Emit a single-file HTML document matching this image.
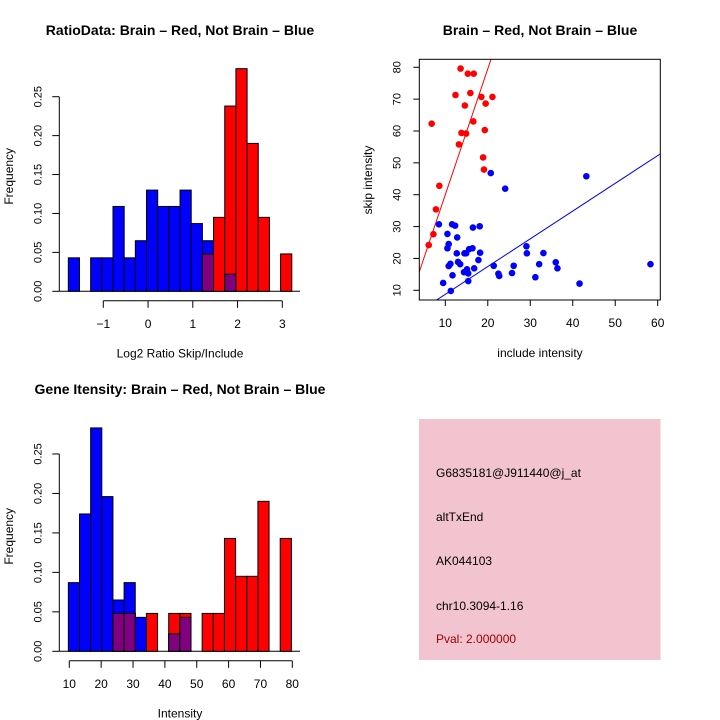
<!DOCTYPE html>
<html><head><meta charset="utf-8"><style>
body{margin:0;background:#fff;width:720px;height:720px;overflow:hidden}
svg{display:block;font-family:"Liberation Sans",sans-serif}
</style></head><body>
<svg id="s" width="720" height="720" xmlns="http://www.w3.org/2000/svg">
<rect x="419" y="419" width="241.5" height="241" fill="#f2c4cf"/>
<g font-size="12">
<text x="436" y="477">G6835181@J911440@j_at</text>
<text x="436" y="521">altTxEnd</text>
<text x="436" y="565">AK044103</text>
<text x="436" y="610">chr10.3094-1.16</text>
<text x="436" y="643" fill="#a00000">Pval: 2.000000</text>
</g>
</svg>
<script>
// Chart 1: ratio histogram
const ratioBlue=[0.043,0,0.043,0.043,0.109,0.043,0.065,0.130,0.109,0.109,0.130,0.087,0.065,0,0.022,0,0,0,0,0];
const ratioRed=[0,0,0,0,0,0,0,0,0,0,0,0,0.048,0.095,0.238,0.286,0.190,0.095,0,0.048];
const ratioStart=-1.782, ratioWidth=0.2497;
const ratioTicks=[-1,0,1,2,3];
// Chart 3: intensity histogram
const intBlue=[0.087,0.174,0.283,0.196,0.065,0.087,0.043,0,0,0.022,0.043,0,0,0,0,0,0,0,0,0];
const intRed=[0,0,0,0,0.048,0.048,0,0.048,0,0.048,0.048,0,0.048,0.048,0.143,0.095,0.095,0.190,0,0.143];
const intStart=9.7, intWidth=3.5;
const intTicks=[10,20,30,40,50,60,70,80];
const freqTicks=[0,0.05,0.10,0.15,0.20,0.25];
// Chart 2: scatter
const redX=[13.6,15.3,16.7,15.9,12.4,18.5,21.1,19.5,14.6,6.8,16.6,19.3,13.8,14.9,13.2,18.9,19.1,8.6,7.8,7.2,6.1];
const redY=[79.6,78,78,71.9,71.3,70.7,70.7,68.6,68,62.3,63,60.3,59.4,59.2,55.8,51.7,47.9,42.8,35.4,27.6,24.2];
const blueX=[8.5,11.6,12.3,16.5,18.1,10.5,12.8,10.8,10.5,16.4,15.6,12.7,14.5,14.9,18.2,29.1,29.2,33.1,13,13.5,17.8,11.2,10.8,16.8,15.1,21.4,26.1,32.1,36,36.4,58.3,14.4,15.4,22.5,22.7,25.7,31.2,11.7,9.5,15.4,41.6,11.3,20.7,24.1,43.2];
const blueY=[30.7,30.7,30.3,29.7,30.1,27.7,26.6,24.5,23.2,23.2,22.9,21.6,21.6,21.6,21.8,23.8,21.6,21.7,18.9,18.2,19.5,18.3,17.6,16.9,16.6,17.7,17.7,18.2,18.8,16.9,18.2,15.7,15.3,15.2,14.5,15.4,14.1,14.7,12.3,12.9,12.1,9.8,46.8,41.9,45.8];
const fitRed=[0.5,3.95], fitBlue=[0.03,0.871];
const scX=[10,20,30,40,50,60], scY=[10,20,30,40,50,60,70,80];

const S=document.getElementById('s');const NS='http://www.w3.org/2000/svg';
function mk(t,a,p){const e=document.createElementNS(NS,t);for(const k in a)e.setAttribute(k,a[k]);(p||S).appendChild(e);return e;}
function txt(x,y,s,opt,p){const e=mk('text',Object.assign({x:x,y:y,'text-anchor':'middle','font-size':12},opt||{}),p);e.textContent=s;return e;}

function hist(o){
  const g=mk('g',{});
  
  
  const X=v=>o.x0+(v-o.v0)*o.kx, Y=v=>o.base-v*o.ky;
  mk('line',{x1:o.axL,x2:300,y1:o.base,y2:o.base,stroke:'#000'},g);
  for(let i=0;i<o.blue.length;i++){
    const a=X(o.start+i*o.w),b=X(o.start+(i+1)*o.w);
    const bv=o.blue[i],rv=o.red[i];
    if(bv>0){const r=mk('rect',{x:a,y:Y(bv),width:b-a,height:o.base-Y(bv),fill:'#0000ff',stroke:'#000'},g);
      
      }
    if(rv>0){const r=mk('rect',{x:a,y:Y(rv),width:b-a,height:o.base-Y(rv),fill:'#ff0000',stroke:'#000'},g);
      
      }
    const m=Math.min(bv,rv);
    if(m>0){const r=mk('rect',{x:a,y:Y(m),width:b-a,height:o.base-Y(m),fill:'#800080',stroke:'#000'},g);
      
      }
  }
  const ya=mk('g',{},g);
  
  
  mk('line',{x1:o.axL,x2:o.axL,y1:Y(0),y2:Y(0.25),stroke:'#000'},ya);
  freqTicks.forEach(t=>{const y=Y(t);mk('line',{x1:o.axL-7,x2:o.axL,y1:y,y2:y,stroke:'#000'},ya);
    txt(0,0,t.toFixed(2),{transform:`translate(${o.axL-18},${y}) rotate(-90)`,'font-size':11},ya);});
  const xa=mk('g',{},g);
  
  
  const ay=o.base+9.5;
  mk('line',{x1:X(o.ticks[0]),x2:X(o.ticks[o.ticks.length-1]),y1:ay,y2:ay,stroke:'#000'},xa);
  o.ticks.forEach(t=>{mk('line',{x1:X(t),x2:X(t),y1:ay,y2:ay+7,stroke:'#000'},xa);
    txt(X(t),ay+27,String(t).replace('-','\u2212'),{'font-size':12},xa);});
  const xt=txt(180,o.base+66,o.xlab,{'font-size':12},g);
  
  
  const yt=txt(0,0,'Frequency',{transform:`translate(13,${o.base-115}) rotate(-90)`,'font-size':12},g);
  
  
  const tt=txt(o.tx,o.ty,o.title,{'font-size':14,'font-weight':'bold'},g);
  
  
}
hist({name:'ratio-histogram',blue:ratioBlue,red:ratioRed,start:ratioStart,w:ratioWidth,ticks:ratioTicks,
  x0:103.3,v0:-1,kx:44.75,base:291.3,ky:778.4,axL:59.3,xlab:'Log2 Ratio Skip/Include',
  title:'RatioData: Brain \u2013 Red, Not Brain \u2013 Blue',tx:180,ty:35});
hist({name:'intensity-histogram',blue:intBlue,red:intRed,start:intStart,w:intWidth,ticks:intTicks,
  x0:69.3,v0:10,kx:3.186,base:651.3,ky:789.3,axL:59.3,xlab:'Intensity',
  title:'Gene Itensity: Brain \u2013 Red, Not Brain \u2013 Blue',tx:180,ty:394});

// scatter
(function(){
  const g=mk('g',{});
  
  
  const L=419.3,R=660.3,T=59.3,B=300;
  const X=v=>445.3+(v-10)*4.248, Y=v=>290.3-(v-10)*3.186;
  const cp=mk('clipPath',{id:'cp'},g);
  mk('rect',{x:L,y:T,width:R-L,height:B-T},cp);
  const xMin=(L-445.3)/4.248+10, xMax=(R-445.3)/4.248+10;
  [[fitRed,'#ff0000','red-fit-line'],[fitBlue,'#0000ff','blue-fit-line']].forEach(([f,c,n])=>{
    const l=mk('line',{x1:X(xMin),y1:Y(f[0]+f[1]*xMin),x2:X(xMax),y2:Y(f[0]+f[1]*xMax),stroke:c,'clip-path':'url(#cp)'},g);
    
    
  });
  redX.forEach((x,i)=>{const c=mk('circle',{cx:X(x),cy:Y(redY[i]),r:3.3,fill:'#ff0000'},g);
    
    });
  blueX.forEach((x,i)=>{const c=mk('circle',{cx:X(x),cy:Y(blueY[i]),r:3.3,fill:'#0000ff'},g);
    
    });
  const box=mk('rect',{x:L,y:T,width:R-L,height:B-T,fill:'none',stroke:'#000'},g);
  
  
  scX.forEach(t=>{mk('line',{x1:X(t),x2:X(t),y1:B,y2:B+6,stroke:'#000'},g);txt(X(t),327,String(t),{},g);});
  scY.forEach(t=>{mk('line',{x1:L-6,x2:L,y1:Y(t),y2:Y(t),stroke:'#000'},g);
    txt(0,0,String(t),{transform:`translate(${L-19},${Y(t)}) rotate(-90)`,'font-size':11},g);});
  const xt=txt(540,357,'include intensity',{'font-size':12},g);
  
  
  const yt=txt(0,0,'skip intensity',{transform:'translate(372,180) rotate(-90)','font-size':12},g);
  
  
  const tt=txt(540,35,'Brain \u2013 Red, Not Brain \u2013 Blue',{'font-size':14,'font-weight':'bold'},g);
  
  
})();
</script>
</body></html>
